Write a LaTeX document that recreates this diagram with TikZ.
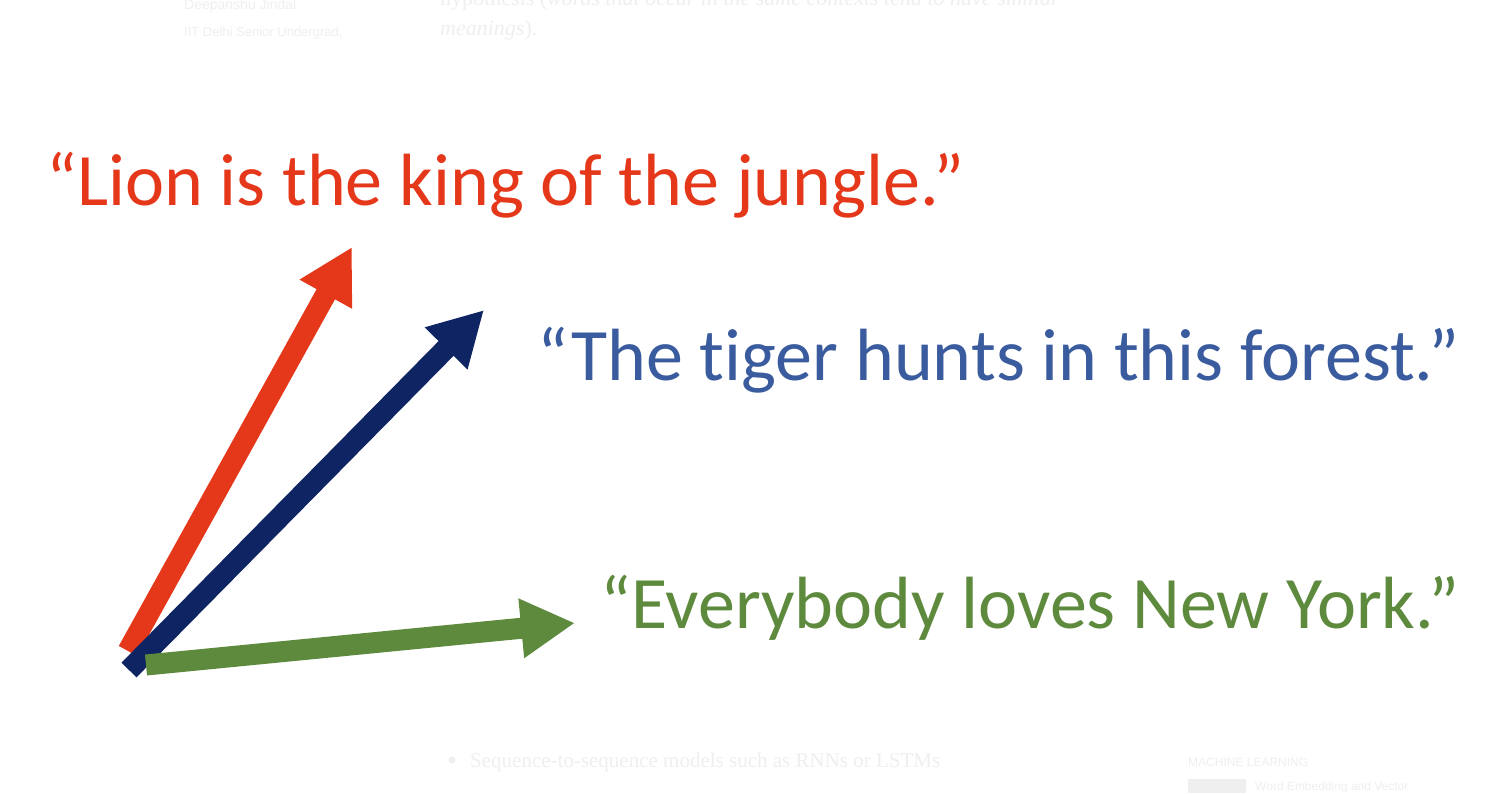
\documentclass[tikz,border=0pt]{standalone}
\usepackage{fontspec}
\setmainfont{Carlito}[Ligatures=NoCommon]
\newfontfamily\pageserif{Liberation Serif}
\newfontfamily\pagesans{Liberation Sans}
\usetikzlibrary{arrows.meta}

\definecolor{lionred}{HTML}{E5381B}
\definecolor{tigernavy}{HTML}{0E2463}
\definecolor{tigerblue}{HTML}{3A5C9E}
\definecolor{nygreen}{HTML}{5E8A3E}
\definecolor{ghost}{HTML}{EFEFEF}

\tikzset{
  vec/.style={line width=21pt, line cap=butt,
    -{Triangle[length=54pt,width=56pt]}},
  sentence/.style={anchor=base west, inner sep=0pt, font=\fontsize{74}{80}\selectfont},
  ghosttext/.style={anchor=base west, inner sep=0pt, text=ghost},
}

\begin{document}
\begin{tikzpicture}[x=1pt,y=-1pt]
  \useasboundingbox (0,0) rectangle (1511,793);
  \clip (0,0) rectangle (1511,793);
  \fill[white] (0,0) rectangle (1511,793);

  % page text showing through behind the slide
  \node[ghosttext, font=\pagesans\fontsize{14}{16}\selectfont] (author) at (184,9) {Deepanshu Jindal};
  \node[ghosttext, font=\pagesans\fontsize{13}{15}\selectfont] (role) at (184,36) {IIT Delhi Senior Undergrad,};
  \node[ghosttext, font=\pageserif\fontsize{22}{24}\selectfont] (hyp) at (440,5) {hypothesis (\textit{words that occur in the same contexts tend to have similar}};
  \node[ghosttext, font=\pageserif\fontsize{22}{24}\selectfont] (mean) at (440,35) {\textit{meanings}).};
  \fill[ghost] (452,760) circle (3.5);
  \node[ghosttext, font=\pageserif\fontsize{21}{24}\selectfont] (seq) at (470,767) {Sequence-to-sequence models such as RNNs or LSTMs};
  \node[ghosttext, font=\pagesans\fontsize{12}{14}\selectfont] (cat) at (1188,766) {MACHINE LEARNING};
  \fill[ghost] (1188,779) rectangle (1246,793);
  \node[ghosttext, font=\pagesans\fontsize{12}{14}\selectfont] (post) at (1255,790) {Word Embedding and Vector};

  % sentences
  \node[sentence, text=lionred]   (lion)  at (46,205)  {“Lion is the king of the jungle.”};
  \node[sentence, text=tigerblue] (tiger) at (537,380) {“The tiger hunts in this forest.”};
  \node[sentence, text=nygreen]   (ny)    at (600,628) {“Everybody loves New York.”};

  % word vectors
  \coordinate (o1) at (128,651);
  \coordinate (o2) at (129,670);
  \coordinate (o3) at (146,665);
  \coordinate (t1) at (352,247);
  \coordinate (t2) at (484,310);
  \coordinate (t3) at (575,623);
  \draw[vec, lionred]   (o1) -- (t1);
  \draw[vec, tigernavy] (o2) -- (t2);
  \draw[vec, nygreen]   (o3) -- (t3);
\end{tikzpicture}
\end{document}
